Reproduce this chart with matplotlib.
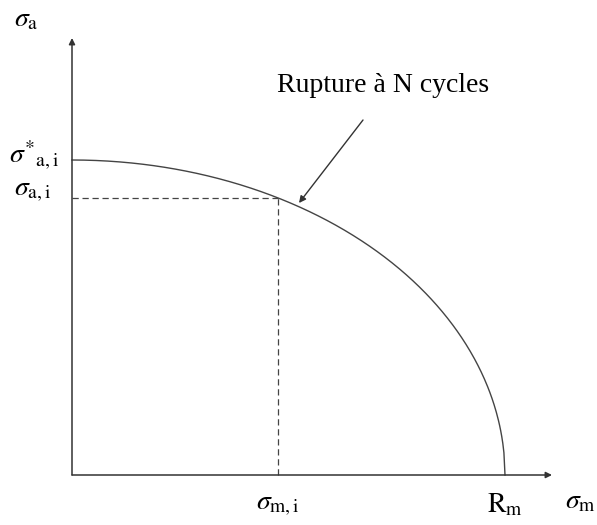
import numpy as np
import matplotlib.pyplot as plt

plt.rcParams['mathtext.fontset'] = 'stix'
plt.rcParams['font.family'] = ['Liberation Serif', 'DejaVu Serif']

# valeurs du diagramme (unites arbitraires)
Rm = 433.0            # resistance a la rupture
sigma_a_star = 315.0  # amplitude limite a contrainte moyenne nulle
sigma_m_i = 206.0     # contrainte moyenne du point i
sigma_a_i = 277.0     # amplitude du point i

# courbe elliptique sigma_a(sigma_m)
sm = np.linspace(0, Rm, 400)
sa = sigma_a_star * np.sqrt(np.clip(1 - (sm / Rm) ** 2, 0, None))

fig = plt.figure(figsize=(5.97, 5.25), dpi=100)
ax = fig.add_axes([0, 0, 1, 1])
ax.set_xlim(-72, 525)
ax.set_ylim(-50, 475)
ax.axis('off')

# axes avec fleches
fleche = dict(arrowstyle='-|>', color='#333333', lw=1.1, mutation_scale=9, shrinkA=0, shrinkB=0)
ax.annotate('', xy=(0, 437), xytext=(0, 0), arrowprops=fleche)
ax.annotate('', xy=(480, 0), xytext=(0, 0), arrowprops=fleche)

ax.plot(sm, sa, color='#444444', lw=1.0)
ax.plot([0, sigma_m_i], [sigma_a_i, sigma_a_i], color='#444444', lw=0.9, ls=(0, (5, 3)))
ax.plot([sigma_m_i, sigma_m_i], [0, sigma_a_i], color='#444444', lw=0.9, ls=(0, (5, 3)))

ax.annotate('', xy=(227, 272), xytext=(291, 355),
            arrowprops=dict(arrowstyle='-|>', color='#333333', lw=1.0, mutation_scale=10,
                            shrinkA=0, shrinkB=0))
ax.text(311, 390, 'Rupture à N cycles', fontsize=20, ha='center', va='center')

fs = 20
ax.text(-46, 455, r'$\sigma_{\mathrm{a}}$', fontsize=fs, ha='center', va='center')
ax.text(-38, 320, r'$\sigma^{*}{}_{\mathrm{a,i}}$', fontsize=fs, ha='center', va='center')
ax.text(-39, 283, r'$\sigma_{\mathrm{a,i}}$', fontsize=fs, ha='center', va='center')
ax.text(sigma_m_i, -30, r'$\sigma_{\mathrm{m,i}}$', fontsize=fs, ha='center', va='center')
ax.text(Rm, -30, r'$\mathrm{R}_{\mathrm{m}}$', fontsize=fs, ha='center', va='center')
ax.text(508, -27, r'$\sigma_{\mathrm{m}}$', fontsize=fs, ha='center', va='center')

fig.savefig('out.png', dpi=100)
